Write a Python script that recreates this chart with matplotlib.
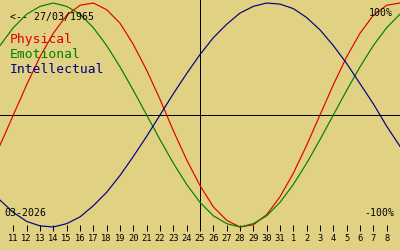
import matplotlib
matplotlib.use("Agg")
import matplotlib.pyplot as plt

# Day offsets from 10 March 2026 (0 .. 30)
days = list(range(31))
physical = [-0.27, 0.00, 0.27, 0.52, 0.73, 0.89, 0.98, 1.00, 0.94, 0.82, 0.63,
            0.40, 0.14, -0.14, -0.40, -0.63, -0.82, -0.94, -1.00, -0.98, -0.89,
            -0.73, -0.52, -0.27, 0.00, 0.27, 0.52, 0.73, 0.89, 0.98, 1.00]
emotional = [0.62, 0.78, 0.90, 0.97, 1.00, 0.97, 0.90, 0.78, 0.62, 0.43, 0.22,
             0.00, -0.22, -0.43, -0.62, -0.78, -0.90, -0.97, -1.00, -0.97, -0.90,
             -0.78, -0.62, -0.43, -0.22, 0.00, 0.22, 0.43, 0.62, 0.78, 0.90]
intellectual = [-0.76, -0.87, -0.95, -0.99, -1.00, -0.97, -0.91, -0.81, -0.69, -0.54, -0.37,
                -0.19, 0.00, 0.19, 0.37, 0.54, 0.69, 0.81, 0.91, 0.97, 1.00,
                0.99, 0.95, 0.87, 0.76, 0.62, 0.46, 0.28, 0.10, -0.10, -0.28]
tick_days = list(range(1, 30))
tick_labels = [str(d) for d in list(range(11, 32)) + list(range(1, 9))]
today = 15
birth_label = "<-- 27/03/1965"
month_label = "03-2026"
series_names = ["Physical", "Emotional", "Intellectual"]

BG = "#e0d183"
colors = ["#e00000", "#008000", "#000080"]
MONO = "DejaVu Sans Mono"

W, H = 400, 250
fig = plt.figure(figsize=(W / 100, H / 100), dpi=100, facecolor=BG)
ax = fig.add_axes([0, (H - 231) / H, 1, 231 / H])
ax.set_facecolor(BG)
ax.set_xlim(0, 30)
ax.set_ylim((115 - 231) / 112, 115 / 112)
for s in ax.spines.values():
    s.set_visible(False)

ax.axhline(0, color="black", lw=0.72, antialiased=False, zorder=1)
ax.axvline(today, color="black", lw=0.72, antialiased=False, zorder=1)

for vals, c in zip([physical, emotional, intellectual], colors):
    ax.plot(days, vals, color=c, lw=0.85, zorder=2)

ax.set_yticks([])
ax.set_xticks(tick_days)
ax.set_xticklabels(tick_labels, fontfamily=MONO, fontsize=6.3)
ax.tick_params(axis="x", direction="in", length=4.3, width=0.72, color="black",
               pad=2.5, labelcolor="black")


def ftext(x, y, s, **kw):
    fig.text(x / W, 1 - y / H, s, fontfamily=MONO, va="baseline", **kw)


ftext(10, 20, birth_label, fontsize=7.1, color="black")
for name, c, yb in zip(series_names, colors, [43, 58, 73]):
    ftext(10, yb, name, fontsize=9.4, color=c)
ftext(393, 16, "100%", fontsize=7.1, color="black", ha="right")
ftext(394, 216, "-100%", fontsize=7.1, color="black", ha="right")
ftext(4, 216, month_label, fontsize=7.1, color="black")

fig.savefig("out.png", dpi=100, facecolor=BG)
